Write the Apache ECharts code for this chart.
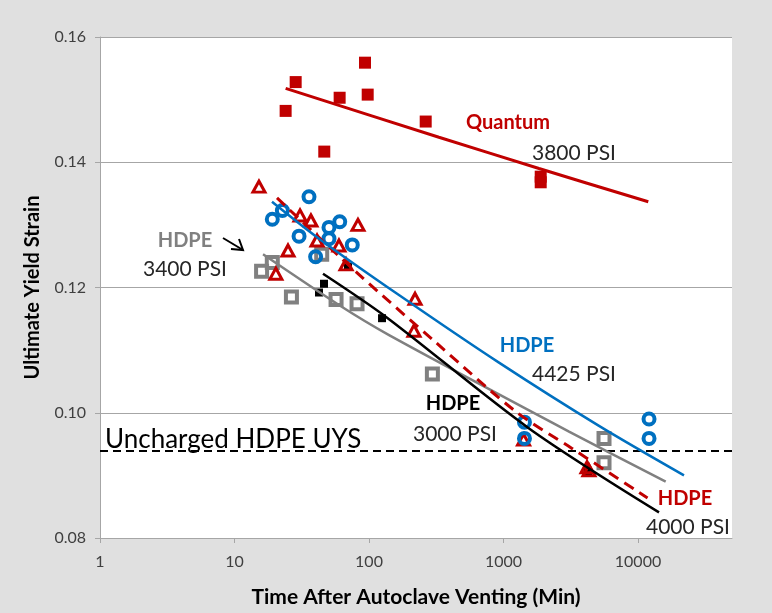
<!DOCTYPE html>
<html><head><meta charset="utf-8">
<script src="https://cdn.jsdelivr.net/npm/echarts@6/dist/echarts.min.js"></script>
<style>html,body{margin:0;padding:0;background:#e0e0e0}#c{width:772px;height:613px}</style>
</head><body><div id="c"></div>
<script>
// ---- axis ticks ----
const xTickValues = [1, 10, 100, 1000, 10000];
const yTickValues = [0.08, 0.10, 0.12, 0.14, 0.16];
const xRange = [1, 50000];

// ---- Quantum 3800 PSI (filled red squares) ----
const quantumX = [24.0, 28.5, 46.5, 60.5, 93.4, 97.8, 264, 1891, 1891];
const quantumY = [0.1482, 0.1528, 0.1417, 0.1503, 0.1559, 0.1508, 0.1465, 0.1377, 0.1368];
const quantumTrendX = [24.0, 331, 1837, 11930];
const quantumTrendY = [0.1518, 0.1440, 0.1390, 0.1337];

// ---- HDPE 4425 PSI (open blue circles) ----
const hdpe4425X = [19.1, 22.7, 35.8, 30.2, 50.4, 60.6, 50.4, 75.1, 40.1, 1432, 1432, 12080, 12080];
const hdpe4425Y = [0.1309, 0.1323, 0.1345, 0.1282, 0.1296, 0.1305, 0.1278, 0.1268, 0.1249, 0.0985, 0.0959, 0.0990, 0.0959];
const hdpe4425TrendX = [19.0, 42.5, 167, 926, 5130, 21980];
const hdpe4425TrendY = [0.1337, 0.1278, 0.1188, 0.1080, 0.0979, 0.0900];

// ---- HDPE 4000 PSI (open red triangles) ----
const hdpe4000X = [15.2, 25.0, 30.7, 37.0, 41.1, 59.8, 82.8, 67.5, 20.3, 220, 216, 1410, 4180, 4320];
const hdpe4000Y = [0.1361, 0.1259, 0.1315, 0.1307, 0.1275, 0.1267, 0.1300, 0.1237, 0.1222, 0.1182, 0.1131, 0.0957, 0.0913, 0.0908];
const hdpe4000TrendX = [20.7, 77.3, 315, 1233, 3230, 11780];
const hdpe4000TrendY = [0.1343, 0.1228, 0.1112, 0.1002, 0.0943, 0.0864];

// ---- HDPE 3400 PSI (open gray squares) ----
const hdpe3400X = [15.9, 19.1, 26.5, 44.5, 56.9, 81.5, 296, 5590, 5590];
const hdpe3400Y = [0.1226, 0.1240, 0.1185, 0.1253, 0.1181, 0.1174, 0.1062, 0.0959, 0.0920];
const hdpe3400TrendX = [16.3, 59.8, 141, 3070, 16070];
const hdpe3400TrendY = [0.1253, 0.1172, 0.1124, 0.0970, 0.0890];

// ---- HDPE 3000 PSI (small filled black squares) ----
const hdpe3000X = [46.3, 42.5, 69.8, 125, 4250];
const hdpe3000Y = [0.1206, 0.1192, 0.1233, 0.1151, 0.0905];
const hdpe3000TrendX = [45.5, 134, 1549, 14330];
const hdpe3000TrendY = [0.1222, 0.1153, 0.0975, 0.0841];

// ---- reference line: uncharged HDPE ultimate yield strain ----
const unchargedUYS = 0.0939;

function pairs(xs, ys) { return xs.map((x, i) => [x, ys[i]]); }

const FONT = 'Lato, "Open Sans", sans-serif';
const RED = '#c00000', BLUE = '#0070c0', GRAY = '#808080', BLACK = '#000000';

function trend(xs, ys, color, width, dashed) {
  return {
    type: 'line', data: pairs(xs, ys), showSymbol: false, symbol: 'none',
    smooth: 0.3, z: 5, silent: true,
    lineStyle: { color: color, width: width, type: dashed ? [11, 7] : 'solid', cap: 'butt', opacity: 1 }
  };
}

function label(text, x, y, color, size, bold, align) {
  return {
    type: 'text', x: x, y: y, z: 100,
    style: {
      text: text, fill: color, textAlign: align || 'center', textVerticalAlign: 'middle',
      font: (bold ? 'bold ' : '') + size + 'px ' + FONT
    }
  };
}

const chart = echarts.init(document.getElementById('c'), null, { renderer: 'canvas' });
chart.setOption({
  animation: false,
  backgroundColor: '#e0e0e0',
  grid: { left: 100, top: 37, right: 40, bottom: 73, show: true, backgroundColor: '#ffffff', borderWidth: 0 },
  xAxis: {
    type: 'log', logBase: 10, min: xRange[0], max: xRange[1],
    name: 'Time After Autoclave Venting (Min)', nameLocation: 'middle', nameGap: 49,
    nameTextStyle: { color: '#000', fontFamily: FONT, fontWeight: 'bold', fontSize: 21 },
    axisLine: { show: true, lineStyle: { color: '#a6a6a6', width: 1 } },
    axisTick: { show: true, length: 5, lineStyle: { color: '#a6a6a6' }, customValues: xTickValues },
    axisLabel: { color: '#404040', fontFamily: FONT, fontSize: 16, margin: 16,
      customValues: xTickValues, formatter: v => String(Math.round(v)) },
    splitLine: { show: false }
  },
  yAxis: {
    type: 'value', min: 0.08, max: 0.16, interval: 0.02,
    name: 'Ultimate Yield Strain', nameLocation: 'middle', nameGap: 57,
    nameTextStyle: { color: '#000', fontFamily: FONT, fontWeight: 'bold', fontSize: 20 },
    axisLine: { show: true, lineStyle: { color: '#a6a6a6', width: 1 } },
    axisTick: { show: true, length: 5, lineStyle: { color: '#a6a6a6' } },
    axisLabel: { color: '#404040', fontFamily: FONT, fontSize: 16, margin: 14,
      formatter: v => v.toFixed(2) },
    splitLine: { show: true, lineStyle: { color: '#a6a6a6', width: 1 } }
  },
  series: [
    { type: 'line', name: 'Uncharged HDPE UYS', data: xRange.map(x => [x, unchargedUYS]),
      showSymbol: false, symbol: 'none', silent: true, z: 1,
      lineStyle: { color: BLACK, width: 2, type: [8, 5], cap: 'butt' } },
    { type: 'scatter', name: 'Quantum', data: pairs(quantumX, quantumY), symbol: 'rect', symbolSize: 12,
      itemStyle: { color: RED, opacity: 1 }, z: 2 },
    { type: 'scatter', name: 'HDPE 3400', data: pairs(hdpe3400X, hdpe3400Y), symbol: 'rect', symbolSize: 11,
      itemStyle: { color: 'rgba(0,0,0,0)', borderColor: GRAY, borderWidth: 4, opacity: 1 }, z: 2 },
    { type: 'scatter', name: 'HDPE 3000', data: pairs(hdpe3000X, hdpe3000Y), symbol: 'rect', symbolSize: 8,
      itemStyle: { color: BLACK, opacity: 1 }, z: 2 },
    { type: 'scatter', name: 'HDPE 4000', data: pairs(hdpe4000X, hdpe4000Y), symbol: 'triangle', symbolSize: [12, 11],
      itemStyle: { color: 'rgba(0,0,0,0)', borderColor: RED, borderWidth: 3, opacity: 1 }, z: 3 },
    { type: 'scatter', name: 'HDPE 4425', data: pairs(hdpe4425X, hdpe4425Y), symbol: 'circle', symbolSize: 11,
      itemStyle: { color: 'rgba(0,0,0,0)', borderColor: BLUE, borderWidth: 4, opacity: 1 }, z: 3 },
    trend(quantumTrendX, quantumTrendY, RED, 3, false),
    trend(hdpe3400TrendX, hdpe3400TrendY, GRAY, 2.5, false),
    trend(hdpe3000TrendX, hdpe3000TrendY, BLACK, 2.5, false),
    trend(hdpe4000TrendX, hdpe4000TrendY, RED, 3, true),
    trend(hdpe4425TrendX, hdpe4425TrendY, BLUE, 2.5, false)
  ],
  graphic: [
    label('Quantum', 508, 123, RED, 20, true),
    label('3800 PSI', 574, 153, '#262626', 21, false),
    label('HDPE', 185, 241, GRAY, 20, true),
    label('3400 PSI', 185, 269, '#262626', 21, false),
    label('HDPE', 527, 346, BLUE, 20, true),
    label('4425 PSI', 574, 374, '#262626', 21, false),
    label('HDPE', 453, 404, '#000', 20, true),
    label('3000 PSI', 455, 434, '#262626', 21, false),
    label('HDPE', 685, 499, RED, 20, true),
    label('4000 PSI', 688, 527, '#262626', 21, false),
    label('Uncharged HDPE UYS', 105, 440, '#000', 26, false, 'left'),
    { type: 'polyline', z: 100, shape: { points: [[223, 238], [243, 250]] }, style: { stroke: '#000', lineWidth: 2, fill: null } },
    { type: 'polyline', z: 100, shape: { points: [[231, 249], [243, 250], [239, 239]] }, style: { stroke: '#000', lineWidth: 2, fill: null } }
  ]
});
</script>
</body></html>
